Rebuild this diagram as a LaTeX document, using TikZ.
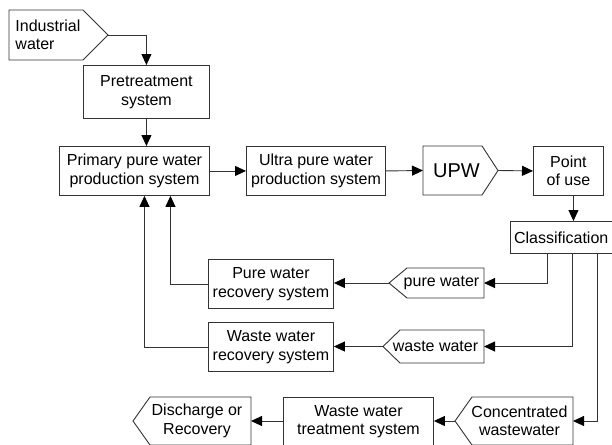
\documentclass[tikz,border=0pt]{standalone}
\usepackage{fontspec}
\setmainfont{Liberation Sans}
\usetikzlibrary{arrows.meta}
\definecolor{ln}{HTML}{333333}
\begin{document}
\begin{tikzpicture}[x=1pt,y=-1pt,
  font=\fontsize{16}{18.5}\selectfont,
  line width=0.9pt,
  box/.style={draw=ln, inner sep=0pt, anchor=north west, align=center},
  lbl/.style={inner sep=0pt, align=center},
  pent/.style={draw=ln, line join=miter},
  flow/.style={draw=ln, -{Triangle[length=11pt,width=10pt,color=black]}}]
\useasboundingbox (0,0) rectangle (612,444);

% rectangular boxes
\node[box, minimum width=126pt, minimum height=53pt] (pre) at (83,65) {Pretreatment\\system};
\node[box, minimum width=150pt, minimum height=49pt] (prim) at (59,146) {Primary pure water\\production system};
\node[box, minimum width=139pt, minimum height=49pt] (ultra) at (246,146) {Ultra pure water\\production system};
\node[box, minimum width=70pt, minimum height=49pt] (pou) at (533,146) {Point\\of use};
\node[box, minimum width=101.5pt, minimum height=32pt] (cls) at (510,221) {Classification};
\node[box, minimum width=125pt, minimum height=49pt] (pwr) at (208,259) {Pure water\\recovery system};
\node[box, minimum width=125pt, minimum height=49pt] (wwr) at (208,322) {Waste water\\recovery system};
\node[box, minimum width=150pt, minimum height=48pt] (wwt) at (283,397) {Waste water\\treatment system};

% pentagon shapes
\draw[pent] (9,10) -- (83,10) -- (108,35) -- (83,60) -- (9,60) -- cycle;
\node[lbl, anchor=west, align=left] (iw) at (15,35) {Industrial\\water};
\coordinate (iw-tip) at (108,35);

\draw[pent] (423,146) -- (482,146) -- (498,170.5) -- (482,195) -- (423,195) -- cycle;
\node[lbl, font=\fontsize{20}{22}\selectfont] (upw) at (456.5,170.5) {UPW};
\coordinate (upw-w) at (423,170.5);
\coordinate (upw-tip) at (498,170.5);

\draw[pent] (389,283) -- (407,268) -- (484,268) -- (484,298) -- (407,298) -- cycle;
\node[lbl] (pw) at (441.5,283) {pure water};
\coordinate (pw-w) at (389,283);
\coordinate (pw-e) at (484,283);

\draw[pent] (383,346.5) -- (400,330) -- (484,330) -- (484,363) -- (400,363) -- cycle;
\node[lbl] (ww) at (435.5,346.5) {waste water};
\coordinate (ww-w) at (383,346.5);
\coordinate (ww-e) at (484,346.5);

\draw[pent] (455,421) -- (472,397) -- (573,397) -- (573,445) -- (472,445) -- cycle;
\node[lbl] (cw) at (519.5,421) {Concentrated\\wastewater};
\coordinate (cw-w) at (455,421);
\coordinate (cw-e) at (573,421);

\draw[pent] (133,421) -- (150,397) -- (251,397) -- (251,445) -- (150,445) -- cycle;
\node[lbl] (dis) at (197,421) {Discharge or\\Recovery};
\coordinate (dis-e) at (251,421);

% connectors
\draw[flow] (iw-tip) -| (pre.north);
\draw[flow] (pre.south) -- (pre.south |- prim.north);
\draw[flow] (prim.east) -- (ultra.west);
\draw[flow] (ultra.east) -- (upw-w);
\draw[flow] (upw-tip) -- (pou.west);
\draw[flow] ([xshift=5pt]pou.south) -- ([xshift=5pt]pou.south |- cls.north);
\draw[flow] ([xshift=-14pt]cls.south) |- (pw-e);
\draw[flow] ([xshift=11pt]cls.south) |- (ww-e);
\draw[flow] ([xshift=36pt]cls.south) |- (cw-e);
\draw[flow] (pw-w) -- (pw-w -| pwr.east);
\draw[flow] (ww-w) -- (ww-w -| wwr.east);
\draw[flow] (pwr.west) -| ([xshift=36pt]prim.south);
\draw[flow] (wwr.west) -| ([xshift=10pt]prim.south);
\draw[flow] (cw-w) -- (wwt.east |- cw-w);
\draw[flow] (wwt.west |- dis-e) -- (dis-e);
\end{tikzpicture}
\end{document}
